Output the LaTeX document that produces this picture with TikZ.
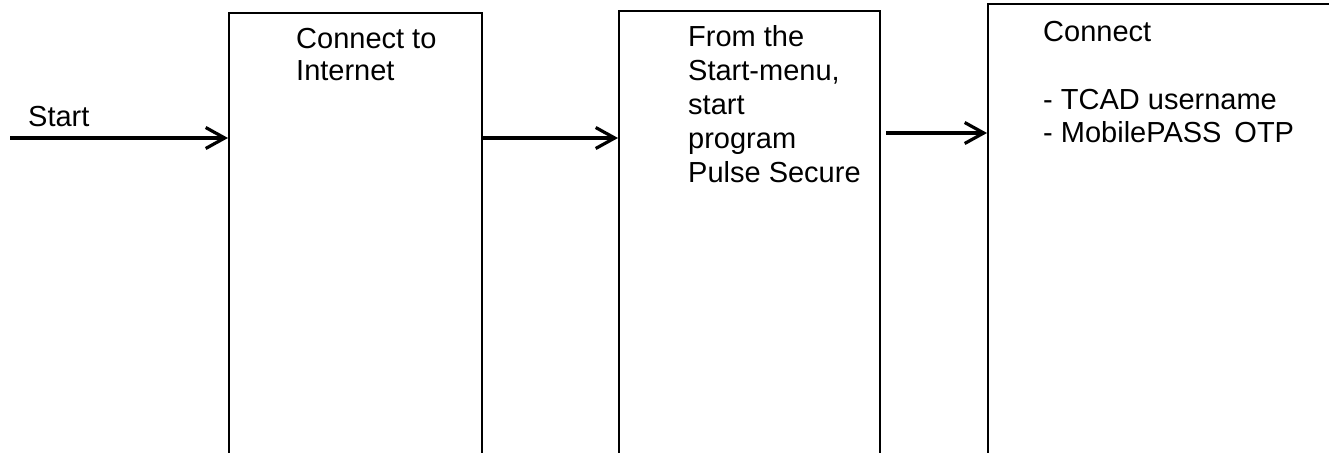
\documentclass[tikz,border=0pt]{standalone}
\usepackage{fontspec}
\setmainfont{Liberation Sans}
\usetikzlibrary{arrows.meta}
\begin{document}
\begin{tikzpicture}[x=1pt,y=-1pt,
  box/.style={draw=black,line width=2pt,rectangle,anchor=north west,inner sep=0pt},
  lbl/.style={anchor=base west,inner sep=0pt,align=left,font=\fontsize{29}{33}\selectfont},
  arr/.style={line width=3.2pt,-{Straight Barb[length=19pt,width=21pt]}}]
\useasboundingbox (0,0) rectangle (1329,452);
\clip (0,0) rectangle (1329,452);
\fill[white] (0,0) rectangle (1329,452);
\node[box,minimum width=253pt,minimum height=470pt] (b1) at (228,12) {};
\node[box,minimum width=261pt,minimum height=470pt] (b2) at (618,10) {};
\node[box,minimum width=400pt,minimum height=470pt] (b3) at (987,3) {};
\node[lbl,font=\fontsize{29}{32.5}\selectfont] (t1) at (296,81) {Connect to\\Internet};
\node[lbl,font=\fontsize{29}{34}\selectfont] (t2) at (688,182) {From the\\Start-menu,\\start\\program\\Pulse Secure};
\node[lbl,font=\fontsize{29}{32.5}\selectfont] (t3) at (1043,142) {Connect\\[35.5pt]- TCAD username\\- MobilePASS\, OTP};
\node[lbl] (ts) at (28,126) {Start};
\coordinate (s) at (10,138);
\coordinate (a2) at (481,138);
\coordinate (a3) at (886,133);
\draw[arr] (s) -- (s -| b1.west);
\draw[arr] (a2) -- (a2 -| b2.west);
\draw[arr] (a3) -- (a3 -| b3.west);
\end{tikzpicture}
\end{document}
